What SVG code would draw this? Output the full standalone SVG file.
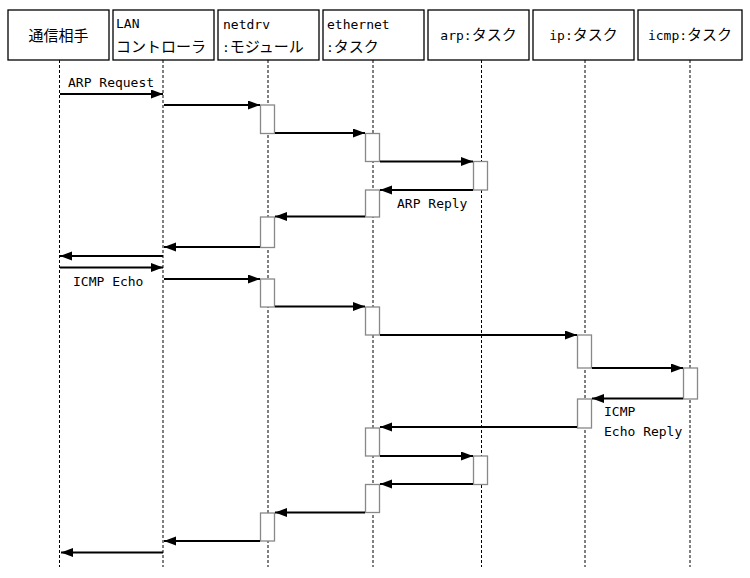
<svg xmlns="http://www.w3.org/2000/svg" width="750" height="578" viewBox="0 0 750 578">
<style>
.box{fill:#fff;stroke:#000;stroke-width:1.3}
.life{stroke:#000;stroke-width:1;stroke-dasharray:3,2;fill:none}
.act{fill:#fff;stroke:#888;stroke-width:1.3}
.msg{stroke:#000;stroke-width:2;fill:none;marker-end:url(#ah)}
text{font-family:"DejaVu Sans Mono","Liberation Mono","Noto Sans CJK JP",monospace;font-size:13px;fill:#000}
.j{font-family:"Noto Sans CJK JP",sans-serif;font-size:15px}
</style>
<defs>
<marker id="ah" markerUnits="userSpaceOnUse" markerWidth="13" markerHeight="10" refX="12" refY="4.5" orient="auto">
<path d="M0,0 L12,4.5 L0,9 z" fill="#000"/>
</marker>
</defs>
<rect width="750" height="578" fill="#fff"/>

<g id="p1">
<line class="life" x1="59.5" y1="60" x2="59.5" y2="567"/>
<rect class="box" x="8" y="10" width="101" height="50"/>
<text x="58.5" y="41" text-anchor="middle"><tspan class="j">通信相手</tspan></text>
</g>
<g id="p2">
<line class="life" x1="163" y1="60" x2="163" y2="567"/>
<rect class="box" x="113" y="10" width="101" height="50"/>
<text x="116" y="28">LAN</text>
<text x="116" y="52"><tspan class="j">コントローラ</tspan></text>
</g>
<g id="p3">
<line class="life" x1="268" y1="60" x2="268" y2="567"/>
<rect class="box" x="218" y="10" width="101" height="50"/>
<text x="223" y="29">netdrv</text>
<text x="222" y="52">:<tspan class="j">モジュール</tspan></text>
<rect class="act" x="260.5" y="105" width="14" height="28.5"/>
<rect class="act" x="260.5" y="217" width="14" height="30.5"/>
<rect class="act" x="260.5" y="279" width="14" height="28"/>
<rect class="act" x="260.5" y="513" width="14" height="28"/>
</g>
<g id="p4">
<line class="life" x1="373" y1="60" x2="373" y2="567"/>
<rect class="box" x="323" y="10" width="101" height="50"/>
<text x="327" y="29">ethernet</text>
<text x="326" y="52">:<tspan class="j">タスク</tspan></text>
<rect class="act" x="365.5" y="133.5" width="14" height="28"/>
<rect class="act" x="365.5" y="190" width="14" height="27"/>
<rect class="act" x="365.5" y="307" width="14" height="28"/>
<rect class="act" x="365.5" y="428" width="14" height="28"/>
<rect class="act" x="365.5" y="484.5" width="14" height="28"/>
</g>
<g id="p5">
<line class="life" x1="481.5" y1="60" x2="481.5" y2="567"/>
<rect class="box" x="428" y="10" width="101" height="50"/>
<text x="478.5" y="40" text-anchor="middle">arp:<tspan class="j">タスク</tspan></text>
<rect class="act" x="473.5" y="161.5" width="14" height="28.5"/>
<rect class="act" x="473.5" y="456" width="14" height="28.5"/>
</g>
<g id="p6">
<line class="life" x1="585" y1="60" x2="585" y2="567"/>
<rect class="box" x="533" y="10" width="101" height="50"/>
<text x="583.5" y="40" text-anchor="middle">ip:<tspan class="j">タスク</tspan></text>
<rect class="act" x="577.5" y="335" width="14" height="33"/>
<rect class="act" x="577.5" y="399" width="14" height="29"/>
</g>
<g id="p7">
<line class="life" x1="690" y1="60" x2="690" y2="567"/>
<rect class="box" x="638" y="10" width="104" height="50"/>
<text x="690" y="40" text-anchor="middle">icmp:<tspan class="j">タスク</tspan></text>
<rect class="act" x="683.5" y="368" width="14" height="31"/>
</g>

<g id="connectors">
<line class="msg" x1="60" y1="94" x2="163" y2="94"/>
<line class="msg" x1="164" y1="105" x2="260" y2="105"/>
<line class="msg" x1="275" y1="133" x2="365" y2="133"/>
<line class="msg" x1="380" y1="161.5" x2="473" y2="161.5"/>
<line class="msg" x1="473" y1="190" x2="380" y2="190"/>
<line class="msg" x1="365" y1="216.5" x2="275" y2="216.5"/>
<line class="msg" x1="260" y1="247" x2="164" y2="247"/>
<line class="msg" x1="163" y1="256" x2="60" y2="256"/>
<line class="msg" x1="60" y1="267.5" x2="163" y2="267.5"/>
<line class="msg" x1="164" y1="279" x2="260" y2="279"/>
<line class="msg" x1="275" y1="306.5" x2="365" y2="306.5"/>
<line class="msg" x1="380" y1="335" x2="577" y2="335"/>
<line class="msg" x1="592" y1="368" x2="683" y2="368"/>
<line class="msg" x1="683" y1="398.5" x2="592" y2="398.5"/>
<line class="msg" x1="577" y1="427" x2="380" y2="427"/>
<line class="msg" x1="380" y1="456" x2="473" y2="456"/>
<line class="msg" x1="473" y1="484" x2="380" y2="484"/>
<line class="msg" x1="365" y1="512.5" x2="275" y2="512.5"/>
<line class="msg" x1="260" y1="541" x2="164" y2="541"/>
<line class="msg" x1="163" y1="552.5" x2="61" y2="552.5"/>
<text x="68" y="87">ARP Request</text>
<text x="397" y="208">ARP Reply</text>
<text x="73" y="286">ICMP Echo</text>
<text x="604" y="416">ICMP</text>
<text x="604" y="436">Echo Reply</text>
</g>
</svg>
